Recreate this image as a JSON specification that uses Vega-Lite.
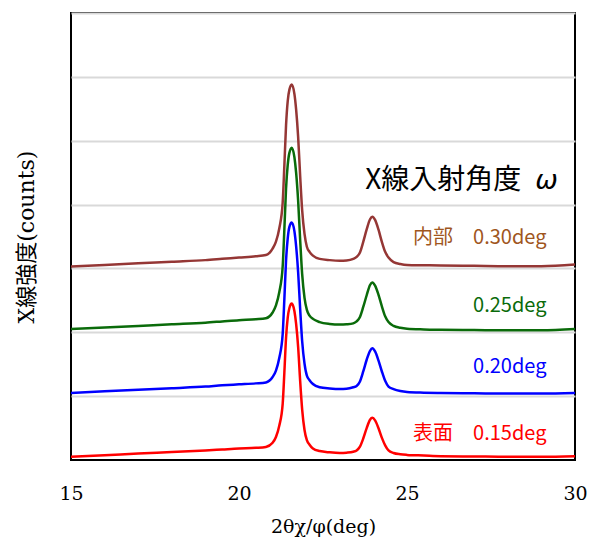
{
  "$schema": "https://vega.github.io/schema/vega-lite/v6.json",
  "width": 504,
  "height": 447,
  "autosize": {"type": "none"},
  "padding": {"left": 71, "top": 13, "right": 14, "bottom": 85},
  "background": "white",
  "config": {
    "view": {"stroke": "black", "strokeWidth": 2},
    "axis": {"grid": false, "domain": false, "ticks": false}
  },
  "datasets": {
    "xrd": [
      {"x": 15, "r": 0.05, "b": 1.05, "g": 2.05, "br": 3.03},
      {"x": 16, "r": 0.075, "b": 1.075, "g": 2.075, "br": 3.055},
      {"x": 17, "r": 0.10, "b": 1.10, "g": 2.10, "br": 3.08},
      {"x": 18, "r": 0.125, "b": 1.125, "g": 2.125, "br": 3.105},
      {"x": 19, "r": 0.15, "b": 1.15, "g": 2.15, "br": 3.13},
      {"x": 19.5, "r": 0.165, "b": 1.17, "g": 2.17, "br": 3.15},
      {"x": 20, "r": 0.18, "b": 1.185, "g": 2.19, "br": 3.17},
      {"x": 20.5, "r": 0.19, "b": 1.20, "g": 2.205, "br": 3.19},
      {"x": 20.8, "r": 0.205, "b": 1.215, "g": 2.22, "br": 3.21},
      {"x": 21.0, "r": 0.27, "b": 1.30, "g": 2.31, "br": 3.31},
      {"x": 21.1, "r": 0.36, "b": 1.40, "g": 2.42, "br": 3.42},
      {"x": 21.2, "r": 0.54, "b": 1.60, "g": 2.63, "br": 3.63},
      {"x": 21.3, "r": 0.88, "b": 1.97, "g": 3.03, "br": 4.03},
      {"x": 21.35, "r": 1.37, "b": 2.52, "g": 3.61, "br": 4.61},
      {"x": 21.4, "r": 1.91, "b": 3.12, "g": 4.25, "br": 5.24},
      {"x": 21.45, "r": 2.23, "b": 3.47, "g": 4.62, "br": 5.62},
      {"x": 21.5, "r": 2.38, "b": 3.65, "g": 4.81, "br": 5.80},
      {"x": 21.57, "r": 2.45, "b": 3.72, "g": 4.89, "br": 5.88},
      {"x": 21.65, "r": 2.33, "b": 3.58, "g": 4.74, "br": 5.73},
      {"x": 21.7, "r": 2.13, "b": 3.35, "g": 4.50, "br": 5.49},
      {"x": 21.76, "r": 1.77, "b": 2.94, "g": 4.06, "br": 5.06},
      {"x": 21.82, "r": 1.24, "b": 2.37, "g": 3.45, "br": 4.45},
      {"x": 21.88, "r": 0.79, "b": 1.86, "g": 2.91, "br": 3.91},
      {"x": 21.95, "r": 0.47, "b": 1.51, "g": 2.54, "br": 3.54},
      {"x": 22.02, "r": 0.31, "b": 1.32, "g": 2.35, "br": 3.34},
      {"x": 22.1, "r": 0.24, "b": 1.25, "g": 2.26, "br": 3.26},
      {"x": 22.2, "r": 0.18, "b": 1.19, "g": 2.21, "br": 3.20},
      {"x": 22.4, "r": 0.14, "b": 1.14, "g": 2.16, "br": 3.15},
      {"x": 22.7, "r": 0.12, "b": 1.12, "g": 2.13, "br": 3.13},
      {"x": 23.0, "r": 0.11, "b": 1.11, "g": 2.12, "br": 3.12},
      {"x": 23.2, "r": 0.115, "b": 1.115, "g": 2.125, "br": 3.125},
      {"x": 23.4, "r": 0.13, "b": 1.14, "g": 2.14, "br": 3.15},
      {"x": 23.5, "r": 0.15, "b": 1.16, "g": 2.17, "br": 3.18},
      {"x": 23.6, "r": 0.21, "b": 1.23, "g": 2.24, "br": 3.25},
      {"x": 23.7, "r": 0.34, "b": 1.39, "g": 2.40, "br": 3.42},
      {"x": 23.8, "r": 0.50, "b": 1.57, "g": 2.58, "br": 3.61},
      {"x": 23.9, "r": 0.63, "b": 1.71, "g": 2.74, "br": 3.77},
      {"x": 23.97, "r": 0.66, "b": 1.75, "g": 2.78, "br": 3.81},
      {"x": 24.05, "r": 0.62, "b": 1.70, "g": 2.73, "br": 3.76},
      {"x": 24.15, "r": 0.50, "b": 1.56, "g": 2.59, "br": 3.61},
      {"x": 24.25, "r": 0.35, "b": 1.39, "g": 2.41, "br": 3.42},
      {"x": 24.35, "r": 0.23, "b": 1.24, "g": 2.25, "br": 3.26},
      {"x": 24.45, "r": 0.15, "b": 1.15, "g": 2.16, "br": 3.17},
      {"x": 24.6, "r": 0.11, "b": 1.11, "g": 2.10, "br": 3.10},
      {"x": 24.8, "r": 0.09, "b": 1.08, "g": 2.07, "br": 3.07},
      {"x": 25, "r": 0.08, "b": 1.065, "g": 2.055, "br": 3.055},
      {"x": 25.5, "r": 0.07, "b": 1.055, "g": 2.045, "br": 3.05},
      {"x": 26, "r": 0.06, "b": 1.05, "g": 2.04, "br": 3.045},
      {"x": 27, "r": 0.055, "b": 1.045, "g": 2.035, "br": 3.04},
      {"x": 28, "r": 0.05, "b": 1.04, "g": 2.03, "br": 3.035},
      {"x": 29, "r": 0.05, "b": 1.04, "g": 2.03, "br": 3.035},
      {"x": 30, "r": 0.06, "b": 1.05, "g": 2.05, "br": 3.06}
    ]
  },
  "layer": [
    {
      "data": {"name": "xrd"},
      "transform": [{"fold": ["r", "b", "g", "br"], "as": ["series", "y"]}],
      "mark": {"type": "line", "strokeWidth": 2.5, "interpolate": "monotone", "clip": true},
      "encoding": {
        "x": {
          "field": "x", "type": "quantitative",
          "scale": {"domain": [15, 30], "nice": false, "zero": false},
          "axis": {
            "values": [15, 20, 25, 30],
            "title": "2θχ/φ(deg)",
            "labelFlush": false,
            "labelFont": "DejaVu Serif", "labelFontSize": 19, "labelColor": "black",
            "labelPadding": 24,
            "titleFont": "DejaVu Serif", "titleFontSize": 19, "titleFontWeight": "normal", "titleColor": "black",
            "titlePadding": 14
          }
        },
        "y": {
          "field": "y", "type": "quantitative",
          "scale": {"domain": [0, 7], "nice": false, "zero": false},
          "axis": {
            "values": [1, 2, 3, 4, 5, 6, 7],
            "labels": false,
            "grid": true, "gridColor": "#d9d9d9", "gridWidth": 2,
            "title": "X線強度(counts)",
            "titleFont": "DejaVu Serif, Noto Sans CJK JP", "titleFontSize": 22, "titleFontWeight": "normal", "titleColor": "black",
            "titlePadding": 33
          }
        },
        "color": {
          "field": "series", "type": "nominal",
          "scale": {"domain": ["r", "b", "g", "br"], "range": ["#ff0000", "#0000ff", "#0a6b0a", "#953735"]},
          "legend": null
        }
      }
    },
    {
      "data": {"values": [{"x": 28.4, "y": 4.375, "t": "X線入射角度"}]},
      "mark": {"type": "text", "align": "right", "baseline": "middle", "font": "Noto Sans CJK JP", "fontSize": 28, "color": "black"},
      "encoding": {"x": {"field": "x", "type": "quantitative"}, "y": {"field": "y", "type": "quantitative"}, "text": {"field": "t"}}
    },
    {
      "data": {"values": [{"x": 29.15, "y": 4.375, "t": "ω"}]},
      "mark": {"type": "text", "align": "center", "baseline": "middle", "font": "DejaVu Sans", "fontSize": 27, "fontStyle": "italic", "color": "black"},
      "encoding": {"x": {"field": "x", "type": "quantitative"}, "y": {"field": "y", "type": "quantitative"}, "text": {"field": "t"}}
    },
    {
      "data": {"values": [{"x": 29.15, "y": 3.48, "t": "内部　0.30deg"}]},
      "mark": {"type": "text", "align": "right", "baseline": "middle", "font": "Noto Sans CJK JP", "fontSize": 20, "color": "#a0561e"},
      "encoding": {"x": {"field": "x", "type": "quantitative"}, "y": {"field": "y", "type": "quantitative"}, "text": {"field": "t"}}
    },
    {
      "data": {"values": [{"x": 29.15, "y": 2.41, "t": "0.25deg"}]},
      "mark": {"type": "text", "align": "right", "baseline": "middle", "font": "Noto Sans CJK JP", "fontSize": 20, "color": "#0a6b0a"},
      "encoding": {"x": {"field": "x", "type": "quantitative"}, "y": {"field": "y", "type": "quantitative"}, "text": {"field": "t"}}
    },
    {
      "data": {"values": [{"x": 29.15, "y": 1.45, "t": "0.20deg"}]},
      "mark": {"type": "text", "align": "right", "baseline": "middle", "font": "Noto Sans CJK JP", "fontSize": 20, "color": "#0000ff"},
      "encoding": {"x": {"field": "x", "type": "quantitative"}, "y": {"field": "y", "type": "quantitative"}, "text": {"field": "t"}}
    },
    {
      "data": {"values": [{"x": 29.15, "y": 0.41, "t": "表面　0.15deg"}]},
      "mark": {"type": "text", "align": "right", "baseline": "middle", "font": "Noto Sans CJK JP", "fontSize": 20, "color": "#ff0000"},
      "encoding": {"x": {"field": "x", "type": "quantitative"}, "y": {"field": "y", "type": "quantitative"}, "text": {"field": "t"}}
    }
  ]
}
